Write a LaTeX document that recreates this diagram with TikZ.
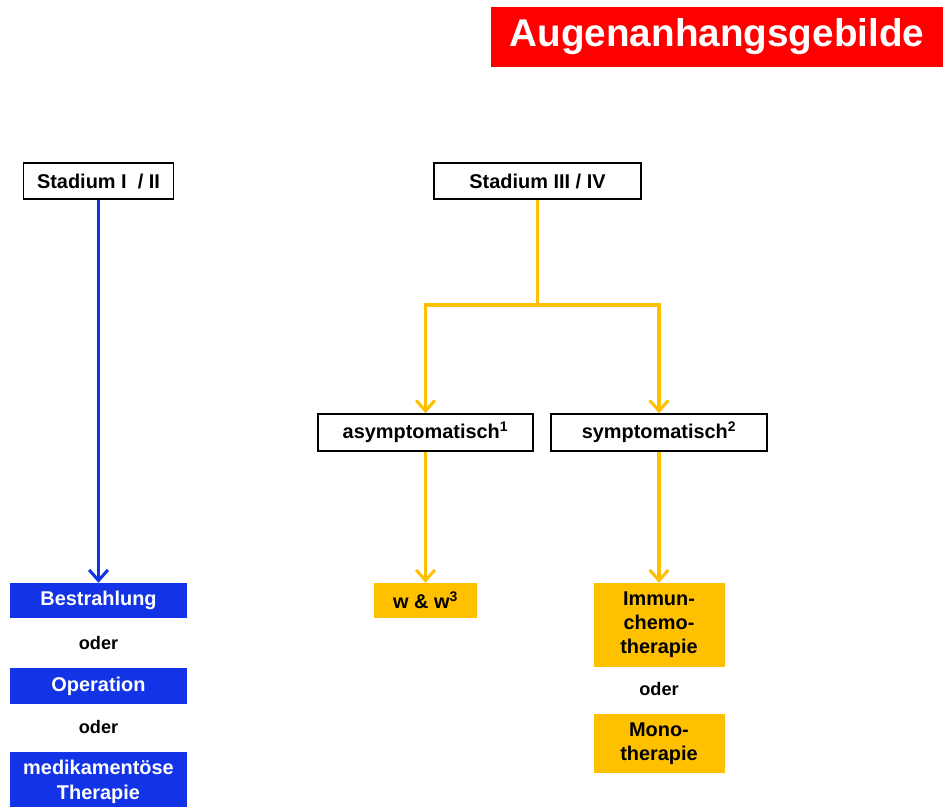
\documentclass[tikz,border=0pt]{standalone}
\usepackage{fontspec}
\setmainfont{Liberation Sans}
\usepackage{tikz}
\usetikzlibrary{positioning,arrows.meta}
\definecolor{titlered}{RGB}{255,0,0}
\definecolor{therapyblue}{RGB}{18,52,230}
\definecolor{therapyyellow}{RGB}{255,192,0}
\tikzset{%
  stage box/.style={
    draw=black,
    line width=1.4pt,
    fill=white,
    inner sep=0pt,
    font=\bfseries\fontsize{17}{21}\selectfont
  },
  blue therapy/.style={
    fill=therapyblue,
    text=white,
    inner sep=0pt,
    align=center,
    minimum width=5.31cm,
    font=\bfseries\fontsize{17}{21}\selectfont
  },
  yellow therapy/.style={
    fill=therapyyellow,
    text=black,
    inner sep=0pt,
    align=center,
    font=\bfseries\fontsize{17}{20.5}\selectfont
  },
  or label/.style={
    font=\bfseries\fontsize{15.5}{18}\selectfont
  },
  flow/.style={
    line width=3pt
  },
}

\begin{document}
\begin{tikzpicture}[x=0.03cm, y=-0.03cm, > = {Straight Barb[length=9pt,width=16pt,line width=2.6pt]}]
\useasboundingbox (0,0) rectangle (943,807);

    % title
    \node[fill=titlered, text=white, minimum width=13.56cm, minimum height=1.8cm,
          font=\bfseries\fontsize{33}{38}\selectfont] (title) at (717,37) {Augenanhangsgebilde};

    % stages
    \node[stage box, minimum width=4.5cm, minimum height=1.08cm] (stage_early) at (98.5,181) {Stadium I~~/ II};
    \node[stage box, minimum width=6.21cm, minimum height=1.08cm] (stage_late) at (537.5,181) {Stadium III / IV};
    \node[stage box, minimum width=6.45cm, minimum height=1.11cm] (asym) at (425.5,432.5) {asymptomatisch\textsuperscript{1}};
    \node[stage box, minimum width=6.48cm, minimum height=1.11cm] (sym) at (659,432.5) {symptomatisch\textsuperscript{2}};

    % left column
    \node[blue therapy, minimum height=1.05cm] (radio) at (98.5,600.5) {Bestrahlung};
    \node[or label] (or_1) at (98.5,643) {oder};
    \node[blue therapy, minimum height=1.08cm] (surgery) at (98.5,686) {Operation};
    \node[or label] (or_2) at (98.5,727) {oder};
    \node[blue therapy, minimum height=1.8cm] (drugs) at (98.5,782) {medikamentöse\\Therapie};

    % right columns
    \node[yellow therapy, minimum width=3.09cm, minimum height=1.05cm] (ww) at (425.5,600.5) {w \& w\textsuperscript{3}};
    \node[yellow therapy, minimum width=3.93cm, minimum height=2.52cm] (immuno) at (659,625) {Immun-\\chemo-\\therapie};
    \node[or label] (or_3) at (659,689) {oder};
    \node[yellow therapy, minimum width=3.93cm, minimum height=1.77cm] (mono) at (659,743.5) {Mono-\\therapie};

    % connectors
    \coordinate (split) at (537.5,305);
    \draw[therapyblue, flow, ->] (stage_early.south) -- (radio.north);
    \draw[therapyyellow, flow] (stage_late.south) -- (split);
    \draw[therapyyellow, flow, ->] (split) -| (asym.north);
    \draw[therapyyellow, flow, ->] (split) -| (sym.north);
    \draw[therapyyellow, flow, ->] (asym.south) -- (ww.north);
    \draw[therapyyellow, flow, ->] (sym.south) -- (immuno.north);
\end{tikzpicture}
\end{document}
